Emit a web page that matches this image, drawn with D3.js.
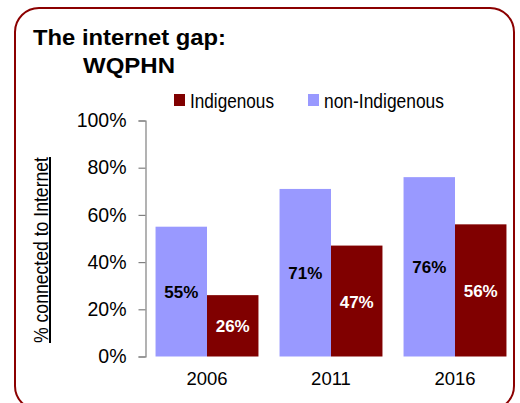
<!DOCTYPE html>
<html>
<head>
<meta charset="utf-8">
<script src="https://cdn.jsdelivr.net/npm/d3@7"></script>
<style>
  html, body { margin: 0; padding: 0; background: #fff; }
  svg { display: block; }
  text { font-family: "Liberation Sans", Arial, sans-serif; }
</style>
</head>
<body>
<svg id="chart" width="520" height="403"></svg>
<script>
// Share of households connected to the internet, by census year
const years = ["2006", "2011", "2016"];
const nonIndigenous = [55, 71, 76];
const indigenous = [26, 47, 56];
const seriesNames = ["non-Indigenous", "Indigenous"];
const seriesColors = ["#9999ff", "#800000"];
const labelColors = ["#000000", "#ffffff"];
const yTicks = [0, 20, 40, 60, 80, 100];

const svg = d3.select("#chart");

// Frame with rounded corners (bottom edge runs past the canvas)
svg.append("rect")
  .attr("x", 15).attr("y", 8)
  .attr("width", 499).attr("height", 402)
  .attr("rx", 24).attr("ry", 24)
  .attr("fill", "#fff")
  .attr("stroke", "#8b0000")
  .attr("stroke-width", 2);

// Title
svg.append("text").attr("x", 33).attr("y", 45)
  .attr("font-size", 22).attr("font-weight", "bold")
  .attr("textLength", 193).attr("lengthAdjust", "spacingAndGlyphs")
  .text("The internet gap:");
svg.append("text").attr("x", 83).attr("y", 73)
  .attr("font-size", 22).attr("font-weight", "bold")
  .attr("textLength", 92).attr("lengthAdjust", "spacingAndGlyphs")
  .text("WQPHN");

// Scales
const y = d3.scaleLinear().domain([0, 100]).range([356.5, 120.5]);
const x0 = d3.scaleBand().domain(years).range([145, 517])
  .paddingInner(0.17).paddingOuter(0.085);
const x1 = d3.scaleBand().domain(seriesNames).range([0, x0.bandwidth()]);

// Y axis
const yAxis = d3.axisLeft(y).tickValues(yTicks).tickSize(7).tickPadding(12)
  .tickFormat(d => d + "%");
const gy = svg.append("g").attr("transform", "translate(145.5,0)").call(yAxis);
gy.select(".domain").attr("stroke", "#808080").attr("stroke-width", 1.2);
gy.selectAll(".tick line").attr("stroke", "#808080").attr("stroke-width", 1.2);
gy.selectAll(".tick text")
  .attr("font-family", "'Liberation Sans', Arial, sans-serif")
  .attr("font-size", 19.5).attr("fill", "#000");

// Y axis title (underlined, condensed)
svg.append("text")
  .attr("transform", "translate(48,250) rotate(-90)")
  .attr("text-anchor", "middle")
  .attr("font-size", 20)
  .attr("textLength", 186).attr("lengthAdjust", "spacingAndGlyphs")
  .attr("text-decoration", "underline")
  .text("% connected to Internet");

// Bars
const rows = years.map((yr, i) => ({ year: yr, values: [nonIndigenous[i], indigenous[i]] }));
const groups = svg.selectAll("g.group").data(rows).join("g")
  .attr("class", "group")
  .attr("transform", d => `translate(${x0(d.year)},0)`);

groups.selectAll("rect").data(d => d.values.map((v, k) => ({ k, v }))).join("rect")
  .attr("x", d => x1(seriesNames[d.k]))
  .attr("y", d => y(d.v))
  .attr("width", x1.bandwidth())
  .attr("height", d => y(0) - y(d.v))
  .attr("fill", d => seriesColors[d.k]);

groups.selectAll("text.val").data(d => d.values.map((v, k) => ({ k, v }))).join("text")
  .attr("class", "val")
  .attr("x", d => x1(seriesNames[d.k]) + x1.bandwidth() / 2)
  .attr("y", d => (y(d.v) + y(0)) / 2 + 6.5)
  .attr("text-anchor", "middle")
  .attr("font-size", 17).attr("font-weight", "bold")
  .attr("fill", d => labelColors[d.k])
  .text(d => d.v + "%");

// Category labels
svg.selectAll("text.cat").data(years).join("text")
  .attr("class", "cat")
  .attr("x", d => x0(d) + x0.bandwidth() / 2)
  .attr("y", 385)
  .attr("text-anchor", "middle")
  .attr("font-size", 18.5)
  .text(d => d);

// Legend (Indigenous first)
const legendItems = [
  { name: "Indigenous", color: seriesColors[1], x: 174, w: 84 },
  { name: "non-Indigenous", color: seriesColors[0], x: 308, w: 120 }
];
const lg = svg.selectAll("g.legend").data(legendItems).join("g")
  .attr("class", "legend")
  .attr("transform", d => `translate(${d.x},94)`);
lg.append("rect").attr("width", 11).attr("height", 12).attr("fill", d => d.color);
lg.append("text").attr("x", 16).attr("y", 13.5)
  .attr("font-size", 20)
  .attr("textLength", d => d.w).attr("lengthAdjust", "spacingAndGlyphs")
  .text(d => d.name);
</script>
</body>
</html>
